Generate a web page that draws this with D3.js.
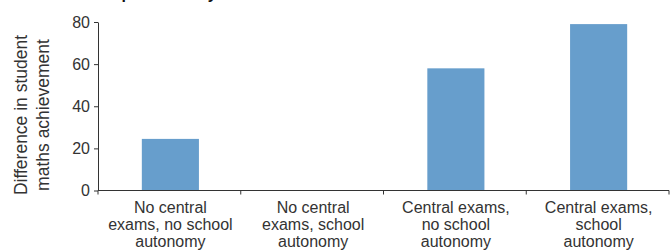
<!DOCTYPE html>
<html>
<head>
<meta charset="utf-8">
<script src="https://cdn.jsdelivr.net/npm/d3@7"></script>
<style>
  body { margin: 0; background: #fff; }
  svg { display: block; font-family: "Liberation Sans", Arial, sans-serif; }
  .axis path, .axis line { stroke: #333; }
  .axis text { fill: #333; font-size: 16px; }
</style>
</head>
<body>
<div id="chart"></div>
<script>
// data
var categories = [
  "No central exams, no school autonomy",
  "No central exams, school autonomy",
  "Central exams, no school autonomy",
  "Central exams, school autonomy"
];
var categoryLines = [
  ["No central", "exams, no school", "autonomy"],
  ["No central", "exams, school", "autonomy"],
  ["Central exams,", "no school", "autonomy"],
  ["Central exams,", "school", "autonomy"]
];
var values = [24.5, 0, 58, 79];
var yTicks = [0, 20, 40, 60, 80];
var yLabelLines = ["Difference in student", "maths achievement"];
var titleText = "Complementarity";

var width = 670, height = 250;
var margin = { top: 22, right: 1, bottom: 59.5, left: 98 };

var svg = d3.select('#chart').append('svg')
  .attr('width', width)
  .attr('height', height);

var x = d3.scaleBand()
  .domain(categories)
  .range([margin.left, width - margin.right])
  .padding(0);

var y = d3.scaleLinear()
  .domain([0, 80])
  .range([height - margin.bottom, margin.top]);

// title, mostly above the visible area (only descenders show)
svg.append('text')
  .attr('x', 86)
  .attr('y', -0.8)
  .attr('font-size', 16)
  .attr('font-weight', 'bold')
  .attr('fill', '#111')
  .text(titleText);

// bars
var barW = x.bandwidth() * 0.4;
svg.append('g').selectAll('rect')
  .data(values)
  .enter().append('rect')
    .attr('x', function(d, i) { return x(categories[i]) + (x.bandwidth() - barW) / 2 + 1; })
    .attr('y', function(d) { return y(d); })
    .attr('width', barW)
    .attr('height', function(d) { return y(0) - y(d); })
    .attr('fill', '#679ECC');

// y axis
var yAxis = d3.axisLeft(y).tickValues(yTicks).tickSize(4).tickPadding(4).tickSizeOuter(0);
svg.append('g')
  .attr('class', 'y axis')
  .attr('transform', 'translate(' + margin.left + ',0)')
  .call(yAxis);

// x axis: ticks at the band edges
var edges = categories.map(function(c) { return x(c); }).concat([x.range()[1]]);
var xg = svg.append('g').attr('class', 'x axis');
xg.append('line')
  .attr('x1', margin.left).attr('x2', width - margin.right)
  .attr('y1', y(0)).attr('y2', y(0));
xg.selectAll('.edge')
  .data(edges)
  .enter().append('line')
    .attr('class', 'edge')
    .attr('x1', function(d) { return d; }).attr('x2', function(d) { return d; })
    .attr('y1', y(0)).attr('y2', y(0) + 4);

var lbl = xg.selectAll('.cat')
  .data(categories)
  .enter().append('text')
    .attr('class', 'cat')
    .attr('text-anchor', 'middle')
    .attr('font-size', 16.3)
    .attr('transform', function(d) { return 'translate(' + (x(d) + x.bandwidth() / 2 + 1) + ',' + (y(0) + 22.5) + ')'; });
lbl.selectAll('tspan')
  .data(function(d, i) { return categoryLines[i]; })
  .enter().append('tspan')
    .attr('x', 0)
    .attr('y', function(d, i) { return i * 17; })
    .text(function(d) { return d; });

// y axis title
var yt = svg.append('text')
  .attr('transform', 'translate(27,115) rotate(-90)')
  .attr('text-anchor', 'middle')
  .attr('font-size', 17.5)
  .attr('fill', '#333');
yt.selectAll('tspan')
  .data(yLabelLines)
  .enter().append('tspan')
    .attr('x', 0)
    .attr('y', function(d, i) { return i * 22; })
    .text(function(d) { return d; });
</script>
</body>
</html>
